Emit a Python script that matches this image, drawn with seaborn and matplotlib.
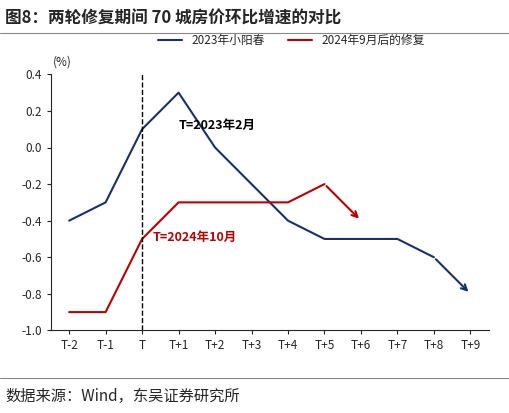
import matplotlib
matplotlib.use("Agg")
import matplotlib.pyplot as plt
import seaborn as sns
import pandas as pd

sns.set_style("white")
plt.rcParams['font.family'] = ['Noto Sans CJK SC', 'DejaVu Sans']

labels = ["T-2","T-1","T","T+1","T+2","T+3","T+4","T+5","T+6","T+7","T+8","T+9"]
s2023 = [-0.4,-0.3,0.1,0.3,0.0,-0.2,-0.4,-0.5,-0.5,-0.5,-0.6,-0.8]
s2024 = [-0.9,-0.9,-0.5,-0.3,-0.3,-0.3,-0.3,-0.2,-0.4]
name1 = "2023年小阳春"
name2 = "2024年9月后的修复"
navy = "#1a2f6e"; red = "#c00000"

fig = plt.figure(figsize=(5.09,4.13), dpi=100)
ax = fig.add_axes([0.1, 0.2, 0.86, 0.62])
x1 = list(range(len(s2023)))
x2 = list(range(len(s2024)))
sns.lineplot(x=x1[:-1], y=s2023[:-1], ax=ax, color=navy, lw=1.5, label=name1)
sns.lineplot(x=x2[:-1], y=s2024[:-1], ax=ax, color=red, lw=1.5, label=name2)
ax.annotate("", xy=(x1[-1], s2023[-1]), xytext=(x1[-2], s2023[-2]),
            arrowprops=dict(arrowstyle="->", color=navy, lw=1.5))
ax.annotate("", xy=(x2[-1], s2024[-1]), xytext=(x2[-2], s2024[-2]),
            arrowprops=dict(arrowstyle="->", color=red, lw=1.5))
ax.axvline(2, color="black", ls="--", lw=1)
ax.set_xlim(-0.5, 11.5)
ax.set_ylim(-1.0, 0.4)
ax.set_yticks([-1.0,-0.8,-0.6,-0.4,-0.2,0.0,0.2,0.4])
ax.set_yticklabels([f"{v:.1f}" for v in [-1.0,-0.8,-0.6,-0.4,-0.2,0.0,0.2,0.4]])
ax.set_xticks(x1); ax.set_xticklabels(labels)
ax.tick_params(labelsize=8.5, length=3, direction="out", left=True, bottom=True)
for s in ["top","right"]: ax.spines[s].set_visible(False)
ax.text(-0.45, 0.43, "(%)", fontsize=8.5, ha="left", va="bottom")
ax.text(3.0, 0.1, "T=2023年2月", fontsize=9, fontweight="bold", color="black")
ax.text(2.3, -0.51, "T=2024年10月", fontsize=9, fontweight="bold", color=red)
ax.legend(loc="upper center", bbox_to_anchor=(0.55, 1.2), ncol=2, frameon=False, fontsize=8.5)
fig.text(0.01, 0.955, "图8：两轮修复期间 70 城房价环比增速的对比", fontsize=12, fontweight="bold", ha="left", va="center")
fig.add_artist(plt.Line2D([0.0,1.0],[0.92,0.92], color="#888888", lw=0.8))
fig.add_artist(plt.Line2D([0.0,1.0],[0.085,0.085], color="#888888", lw=0.8))
fig.text(0.01, 0.04, "数据来源：Wind，东吴证券研究所", fontsize=11, ha="left", va="center")
fig.savefig("out.png", dpi=100)
